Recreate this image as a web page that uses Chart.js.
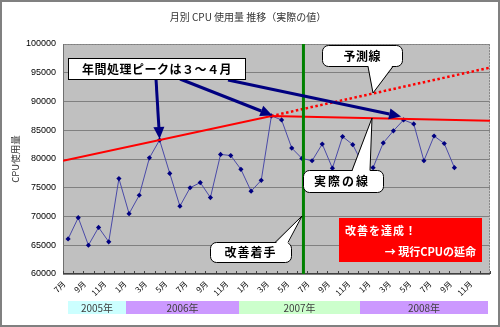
<!DOCTYPE html>
<html>
<head>
<meta charset="utf-8">
<script src="https://cdn.jsdelivr.net/npm/chart.js@4.4.1/dist/chart.umd.min.js"></script>
<style>
html,body{margin:0;padding:0;background:#fff;}
#wrap{position:relative;width:500px;height:327px;}
canvas{display:block;}
</style>
</head>
<body>
<div id="wrap"><canvas id="c" width="500" height="327"></canvas></div>
<script>
// ---- data ----
const chartTitle = '月別 CPU 使用量 推移（実際の値）';
const yAxisTitle = 'CPU使用量';
const monthLabels = [
  '7月','8月','9月','10月','11月','12月',
  '1月','2月','3月','4月','5月','6月','7月','8月','9月','10月','11月','12月',
  '1月','2月','3月','4月','5月','6月','7月','8月','9月','10月','11月','12月',
  '1月','2月','3月','4月','5月','6月','7月','8月','9月','10月','11月','12月'
];
const yearLabels = ['2005年','2006年','2007年','2008年'];
const cpuUsage = [
  66100,69800,65000,68100,65600,76600,
  70500,73700,80200,83300,77500,71800,75000,75900,73300,80800,80600,78200,
  74400,76300,87500,86800,81900,80100,79700,82600,78400,83900,82500,79000,
  78500,82800,84900,86800,86100,79700,84000,82700,78500,null,null,null
];
// trend lines (x = month index, -0.5 / 41.5 = plot edges)
const trendX = [-0.5, 20, 41.5];
const actualTrend = [79700, 87480, 86660];
const forecastX = [20, 41.5];
const forecastTrend = [87480, 95900];
const improvementStart = 23.15;
const yMin = 60000, yMax = 100000, yStep = 5000;

const annText = {
  peak: '年間処理ピークは３～４月',
  forecast: '予測線',
  actual: '実際の線',
  start: '改善着手',
  done1: '改善を達成！',
  done2: '→ 現行CPUの延命'
};

const CJK = "'Noto Sans CJK JP', sans-serif";

function arrow(ctx, x1, y1, x2, y2, color, w, hl, hw) {
  const a = Math.atan2(y2 - y1, x2 - x1);
  const bx = x2 - hl * Math.cos(a), by = y2 - hl * Math.sin(a);
  ctx.save();
  ctx.strokeStyle = color; ctx.lineWidth = w; ctx.lineCap = 'butt';
  ctx.beginPath(); ctx.moveTo(x1, y1); ctx.lineTo(bx, by); ctx.stroke();
  ctx.fillStyle = color;
  ctx.beginPath(); ctx.moveTo(x2, y2);
  ctx.lineTo(bx + hw * Math.sin(a), by - hw * Math.cos(a));
  ctx.lineTo(bx - hw * Math.sin(a), by + hw * Math.cos(a));
  ctx.closePath(); ctx.fill();
  ctx.restore();
}

function callout(ctx, x, y, w, h, r, b1, b2, tip, inward, text, tx, ty, spacing) {
  ctx.save();
  ctx.lineWidth = 1; ctx.strokeStyle = '#000'; ctx.fillStyle = '#fff';
  ctx.beginPath(); ctx.roundRect(x + 0.5, y + 0.5, w, h, r); ctx.fill(); ctx.stroke();
  ctx.beginPath();
  ctx.moveTo(b1[0], b1[1] + inward); ctx.lineTo(tip[0], tip[1]); ctx.lineTo(b2[0], b2[1] + inward);
  ctx.closePath(); ctx.fill();
  ctx.beginPath();
  ctx.moveTo(b1[0], b1[1]); ctx.lineTo(tip[0], tip[1]); ctx.lineTo(b2[0], b2[1]);
  ctx.stroke();
  ctx.fillStyle = '#000';
  ctx.font = 'bold 12px ' + CJK;
  ctx.letterSpacing = spacing + 'px';
  ctx.textAlign = 'center'; ctx.textBaseline = 'middle';
  ctx.fillText(text, tx + spacing / 2, ty);
  ctx.restore();
}

const deco = {
  id: 'deco',
  beforeDraw(chart) {
    const { ctx, chartArea: a } = chart;
    ctx.save();
    ctx.fillStyle = '#fff'; ctx.fillRect(0, 0, chart.width, chart.height);
    ctx.fillStyle = '#c0c0c0'; ctx.fillRect(a.left, a.top, a.right - a.left, a.bottom - a.top);
    ctx.restore();
  },
  beforeDatasetsDraw(chart) {
    const { ctx, chartArea: a } = chart;
    const x2 = chart.scales.x2;
    ctx.save();
    ctx.lineWidth = 1;
    ctx.strokeStyle = '#8a8a8a';
    ctx.setLineDash([2, 1]);
    ctx.beginPath();
    ctx.moveTo(a.left, a.top + 0.5); ctx.lineTo(a.right - 0.5, a.top + 0.5); ctx.lineTo(a.right - 0.5, a.bottom);
    ctx.stroke();
    ctx.setLineDash([]);
    ctx.strokeStyle = '#707070';
    ctx.beginPath(); ctx.moveTo(a.left + 0.5, a.top); ctx.lineTo(a.left + 0.5, a.bottom); ctx.stroke();
    ctx.strokeStyle = '#404040';
    ctx.beginPath(); ctx.moveTo(a.left, a.bottom - 0.5); ctx.lineTo(a.right, a.bottom - 0.5); ctx.stroke();
    ctx.beginPath();
    for (let i = 0; i <= monthLabels.length; i++) {
      const px = Math.round(x2.getPixelForValue(i - 0.5)) + 0.5;
      ctx.moveTo(px, a.bottom - 3); ctx.lineTo(px, a.bottom);
    }
    ctx.stroke();
    ctx.restore();
  },
  afterDraw(chart) {
    const { ctx } = chart;
    const xs = chart.scales.x, ys = chart.scales.y;
    const pt = (i) => [xs.getPixelForValue(i), ys.getPixelForValue(cpuUsage[i])];
    ctx.save();
    // title
    ctx.fillStyle = '#333'; ctx.font = '10px ' + CJK;
    ctx.textAlign = 'center'; ctx.textBaseline = 'middle';
    ctx.fillText(chartTitle, 248, 17);

    // year bands
    const bands = [[68, 126, '#ccffff'], [126, 239, '#cc99ff'], [239, 360, '#ccffcc'], [360, 488, '#cc99ff']];
    ctx.font = '10px ' + CJK;
    bands.forEach((b, i) => {
      ctx.fillStyle = b[2]; ctx.fillRect(b[0], 301, b[1] - b[0], 13);
      ctx.fillStyle = '#404040';
      ctx.fillText(yearLabels[i], (b[0] + b[1]) / 2, 308);
    });

    // peak box + arrows
    const navy = '#000080';
    const p9 = pt(9), p20 = pt(20), p33 = pt(33);
    arrow(ctx, 156, 79, p9[0], p9[1] - 1, navy, 3, 12, 5.5);
    arrow(ctx, 180, 79, p20[0] + 1, p20[1] - 0.5, navy, 3, 12, 5.5);
    arrow(ctx, 228, 80, p33[0] - 2.5, p33[1] - 3.5, navy, 3, 12, 5.5);
    ctx.fillStyle = '#fff'; ctx.strokeStyle = '#000'; ctx.lineWidth = 1;
    ctx.fillRect(68, 58, 177, 21); ctx.strokeRect(68.5, 58.5, 177, 21);
    ctx.fillStyle = '#000'; ctx.font = 'bold 12px ' + CJK; ctx.letterSpacing = '0.5px';
    ctx.fillText(annText.peak, 157, 69);
    ctx.letterSpacing = '0px';

    // callouts
    callout(ctx, 322, 45, 80, 21, 6, [368, 66.5], [393, 66.5], [373, 93], -1.5, annText.forecast, 362, 56, 0.5);
    callout(ctx, 303, 170, 80, 22, 6, [352, 170.5], [370, 170.5], [372, 118], 1.5, annText.actual, 341, 181, 2);
    callout(ctx, 210, 242, 81, 20, 6, [275, 242.5], [288, 242.5], [302, 216], 1.5, annText.start, 250, 252, 1);

    // red box
    ctx.fillStyle = '#ff0000'; ctx.fillRect(339, 218, 143, 44);
    ctx.fillStyle = '#fff'; ctx.font = 'bold 11px ' + CJK; ctx.textBaseline = 'middle';
    ctx.letterSpacing = '1px';
    ctx.textAlign = 'left'; ctx.fillText(annText.done1, 345, 231);
    ctx.letterSpacing = '0px';
    ctx.textAlign = 'right'; ctx.fillText(annText.done2, 476, 252);

    // outer border
    ctx.strokeStyle = '#808080'; ctx.lineWidth = 2;
    ctx.strokeRect(1, 1, 498, 325);
    ctx.restore();
  }
};

new Chart(document.getElementById('c'), {
  type: 'line',
  data: {
    labels: monthLabels,
    datasets: [
      {
        label: 'CPU使用量', data: cpuUsage, xAxisID: 'x', yAxisID: 'y',
        borderColor: '#4a4aa8', borderWidth: 1, tension: 0,
        pointStyle: 'rectRot', pointRadius: 2.6, pointBackgroundColor: '#000080', pointBorderColor: '#000080', pointBorderWidth: 0,
        spanGaps: false, order: 3
      },
      {
        label: '実際の線', data: trendX.map((x, i) => ({ x, y: actualTrend[i] })), xAxisID: 'x2', yAxisID: 'y',
        borderColor: '#ff0000', borderWidth: 2, pointRadius: 0, tension: 0, order: 2
      },
      {
        label: '予測線', data: forecastX.map((x, i) => ({ x, y: forecastTrend[i] })), xAxisID: 'x2', yAxisID: 'y',
        borderColor: '#ff0000', borderWidth: 2.5, borderDash: [2.5, 2.5], pointRadius: 0, tension: 0, order: 2
      },
      {
        label: '改善着手', data: [{ x: improvementStart, y: yMin }, { x: improvementStart, y: yMax }], xAxisID: 'x2', yAxisID: 'y',
        borderColor: '#008000', borderWidth: 3, pointRadius: 0, order: 1
      }
    ]
  },
  options: {
    responsive: false, animation: false, devicePixelRatio: 1,
    layout: { padding: { left: 0, right: 10, top: 44, bottom: 0 } },
    plugins: { legend: { display: false }, title: { display: false }, tooltip: { enabled: false } },
    scales: {
      x: {
        type: 'category', offset: true,
        grid: { display: false, drawTicks: false }, border: { display: false },
        ticks: {
          autoSkip: false, minRotation: 45, maxRotation: 45, padding: 5, labelOffset: -4,
          color: '#000', font: { size: 8, family: CJK },
          callback: (v, i) => (i % 2 === 0 ? monthLabels[i] : '')
        },
        afterFit: (s) => { s.height = 53; }
      },
      x2: { type: 'linear', display: false, min: -0.5, max: 41.5 },
      y: {
        min: yMin, max: yMax,
        ticks: { stepSize: yStep, padding: 7, color: '#000', font: { size: 9, family: "'Liberation Sans', Arial, sans-serif" },
          callback: (v) => String(v) },
        grid: { color: '#808080', drawTicks: false }, border: { display: false },
        title: { display: true, text: yAxisTitle, color: '#333', font: { size: 9.5, family: CJK }, padding: { top: 10, bottom: 0 } },
        afterFit: (s) => { s.width = 63; }
      }
    }
  },
  plugins: [deco]
});
</script>
</body>
</html>
